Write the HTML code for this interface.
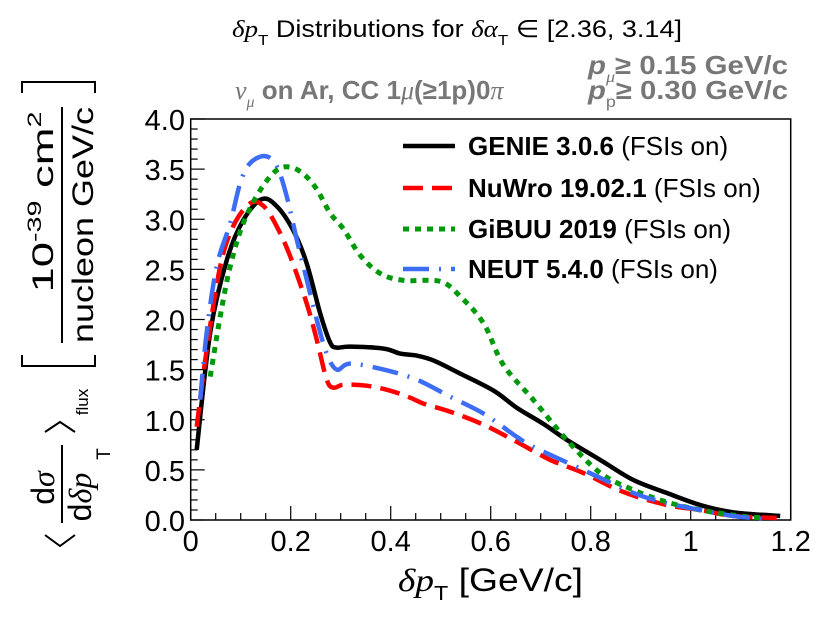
<!DOCTYPE html>
<html><head><meta charset="utf-8"><style>
html,body{margin:0;padding:0;background:#fff;}
svg{display:block;font-family:"Liberation Sans",sans-serif;}
</style></head><body>
<svg id="chart" width="830" height="624" viewBox="0 0 830 624" xmlns="http://www.w3.org/2000/svg">
<rect width="830" height="624" fill="#fff"/>
<g>
<text x="232" y="37" font-size="24" fill="#000" textLength="450" lengthAdjust="spacingAndGlyphs"><tspan font-family="Liberation Serif" font-style="italic">δp</tspan><tspan font-size="15" dy="8">T</tspan><tspan dy="-8"> Distributions for </tspan><tspan font-family="Liberation Serif" font-style="italic">δα</tspan><tspan font-size="15" dy="8">T</tspan><tspan dy="-8"> ∈  [2.36, 3.14]</tspan></text>
</g>
<text x="588" y="74" font-size="26" font-weight="bold" fill="#777" textLength="200" lengthAdjust="spacingAndGlyphs"><tspan font-style="italic">p</tspan><tspan font-size="16" dy="8" font-weight="normal" font-family="Liberation Serif" font-style="italic">μ</tspan><tspan dy="-8">≥ 0.15 GeV/c</tspan></text>
<text x="588" y="99" font-size="26" font-weight="bold" fill="#777" textLength="200" lengthAdjust="spacingAndGlyphs"><tspan font-style="italic">p</tspan><tspan font-size="16" dy="8" font-weight="normal">p</tspan><tspan dy="-8">≥ 0.30 GeV/c</tspan></text>
<text x="235" y="99" font-size="26" font-weight="bold" fill="#777"><tspan font-family="Liberation Serif" font-style="italic" font-weight="normal">ν</tspan><tspan font-size="16" dy="8" font-family="Liberation Serif" font-style="italic" font-weight="normal">μ</tspan><tspan dy="-8"> on Ar, CC 1</tspan><tspan font-family="Liberation Serif" font-style="italic" font-weight="normal">μ</tspan><tspan>(≥1p)0</tspan><tspan font-family="Liberation Serif" font-style="italic" font-weight="normal">π</tspan></text>

<g>
<path d="M22,93 V82 H95 V93" fill="none" stroke="#000" stroke-width="2"/>
<path d="M22,355 V366 H95 V355" fill="none" stroke="#000" stroke-width="2"/>
<line x1="62" y1="107" x2="62" y2="343" stroke="#000" stroke-width="2"/>
<text transform="translate(53,202) rotate(-90)" font-size="30" text-anchor="middle" textLength="181" lengthAdjust="spacingAndGlyphs">10<tspan font-size="19" dy="-12">-39</tspan><tspan dy="12"> cm</tspan><tspan font-size="19" dy="-12">2</tspan></text>
<text transform="translate(93,225) rotate(-90)" font-size="30" text-anchor="middle" textLength="236" lengthAdjust="spacingAndGlyphs">nucleon GeV/c</text>
<path d="M45,432 L60,422 L75,432" fill="none" stroke="#000" stroke-width="2"/>
<text transform="translate(88,402) rotate(-90)" font-size="17" text-anchor="middle">flux</text>
<line x1="62" y1="445" x2="62" y2="523" stroke="#000" stroke-width="2"/>
<text transform="translate(54,488) rotate(-90)" font-size="32" text-anchor="middle">d<tspan font-family="Liberation Serif" font-style="italic">σ</tspan></text>
<text transform="translate(91,497) rotate(-90)" font-size="32" text-anchor="middle">d<tspan font-family="Liberation Serif" font-style="italic">δp</tspan></text>
<text transform="translate(110,454) rotate(-90)" font-size="19" text-anchor="middle">T</text>
<path d="M45,535 L60,546 L75,535" fill="none" stroke="#000" stroke-width="2"/>
</g>

<text x="398" y="591" font-size="32" textLength="185" lengthAdjust="spacingAndGlyphs"><tspan font-family="Liberation Serif" font-style="italic">δp</tspan><tspan font-size="20" dy="9">T</tspan><tspan dy="-9"> [GeV/c]</tspan></text>

<g id="axes"></g>
<g id="series"></g>
<g id="legend"></g>
</svg>
<script>
const xTicks = [0, 0.2, 0.4, 0.6, 0.8, 1, 1.2];
const xTickLabels = ["0", "0.2", "0.4", "0.6", "0.8", "1", "1.2"];
const yTicks = [0, 0.5, 1, 1.5, 2, 2.5, 3, 3.5, 4];
const yTickLabels = ["0.0", "0.5", "1.0", "1.5", "2.0", "2.5", "3.0", "3.5", "4.0"];
const seriesNames = ["GENIE 3.0.6", "NuWro 19.02.1", "GiBUU 2019", "NEUT 5.4.0"];
const genieX = [0.012,0.039,0.072,0.105,0.142,0.172,0.205,0.232,0.259,0.279,0.292,0.319,0.386,0.419,0.452,0.486,0.539,0.606,0.652,0.705,0.752,0.819,0.885,0.952,1.019,1.085,1.179];
const genieY = [0.70,1.87,2.59,2.99,3.20,3.13,2.89,2.56,2.06,1.77,1.72,1.73,1.71,1.66,1.64,1.59,1.46,1.29,1.12,0.96,0.80,0.60,0.40,0.27,0.15,0.077,0.04];
const nuwroX = [0.012,0.032,0.059,0.085,0.119,0.146,0.172,0.199,0.232,0.252,0.272,0.286,0.306,0.352,0.399,0.439,0.466,0.519,0.586,0.652,0.719,0.785,0.865,0.952,1.019,1.085,1.172];
const nuwroY = [0.93,1.70,2.53,2.93,3.16,3.13,2.93,2.63,2.16,1.80,1.40,1.32,1.35,1.34,1.29,1.22,1.16,1.08,0.95,0.78,0.60,0.47,0.28,0.15,0.10,0.04,0.02];
const gibuuX = [0.039,0.059,0.079,0.105,0.139,0.172,0.199,0.226,0.252,0.279,0.306,0.339,0.379,0.426,0.499,0.539,0.586,0.625,0.685,0.752,0.819,0.885,0.952,1.019,1.099,1.15];
const gibuuY = [1.43,2.03,2.53,2.96,3.29,3.49,3.52,3.45,3.30,3.06,2.90,2.64,2.46,2.39,2.38,2.23,1.96,1.55,1.20,0.80,0.47,0.30,0.18,0.10,0.04,0.02];
const neutX = [0.019,0.032,0.052,0.079,0.099,0.119,0.149,0.172,0.192,0.212,0.232,0.252,0.272,0.292,0.319,0.386,0.452,0.519,0.586,0.652,0.685,0.785,0.885,0.952,1.019,1.085,1.15];
const neutY = [1.20,1.87,2.53,2.96,3.36,3.56,3.63,3.53,3.23,2.80,2.40,2.00,1.66,1.50,1.56,1.50,1.40,1.23,1.06,0.83,0.73,0.50,0.27,0.17,0.10,0.04,0.01];

const NS = "http://www.w3.org/2000/svg";
const X0 = 190.7, X1 = 790.7, Y0 = 520, Y1 = 119;
const sx = v => X0 + (v / 1.2) * (X1 - X0);
const sy = v => Y0 - (v / 4) * (Y0 - Y1);
function mk(tag, attrs, parent) {
  const e = document.createElementNS(NS, tag);
  for (const k in attrs) e.setAttribute(k, attrs[k]);
  parent.appendChild(e);
  return e;
}
function smoothPath(P) {
  let d = 'M' + P[0][0].toFixed(1) + ',' + P[0][1].toFixed(1);
  for (let i = 0; i < P.length - 1; i++) {
    const p0 = P[Math.max(i - 1, 0)], p1 = P[i], p2 = P[i + 1], p3 = P[Math.min(i + 2, P.length - 1)];
    const c1 = [p1[0] + (p2[0] - p0[0]) / 6, p1[1] + (p2[1] - p0[1]) / 6];
    const c2 = [p2[0] - (p3[0] - p1[0]) / 6, p2[1] - (p3[1] - p1[1]) / 6];
    d += ' C' + c1[0].toFixed(1) + ',' + c1[1].toFixed(1) + ' ' + c2[0].toFixed(1) + ',' + c2[1].toFixed(1) + ' ' + p2[0].toFixed(1) + ',' + p2[1].toFixed(1);
  }
  return d;
}
const axes = document.getElementById('axes');
const frame = mk('rect', {x: X0, y: Y1, width: X1 - X0, height: Y0 - Y1, fill: 'none', stroke: '#000', 'stroke-width': 1.5}, axes);


for (let i = 0; i <= 24; i++) {
  const v = i * 0.05, major = i % 4 === 0;
  const t = mk('line', {x1: sx(v), x2: sx(v), y1: Y0, y2: Y0 - (major ? 14 : 7), stroke: '#000', 'stroke-width': 1.2}, axes);
  
  
}
for (let i = 0; i <= 40; i++) {
  const v = i * 0.1, major = i % 5 === 0;
  const t = mk('line', {x1: X0, x2: X0 + (major ? 14 : 7), y1: sy(v), y2: sy(v), stroke: '#000', 'stroke-width': 1.2}, axes);
  
  
}
xTicks.forEach((v, i) => {
  const t = mk('text', {x: sx(v), y: 551, 'font-size': 29, 'text-anchor': 'middle'}, axes);
  t.textContent = xTickLabels[i];
  
  
});
yTicks.forEach((v, i) => {
  const t = mk('text', {x: 185, y: sy(v) + 11, 'font-size': 29, 'text-anchor': 'end'}, axes);
  t.textContent = yTickLabels[i];
  
  
});
const styles = [
  {stroke: '#000', w: 4.5, dash: ''},
  {stroke: '#ff0000', w: 4.5, dash: '20 9'},
  {stroke: '#00990a', w: 5, dash: '6 6'},
  {stroke: '#3d6df5', w: 4.5, dash: '26 10 2 10'}
];
const data = [[genieX, genieY], [nuwroX, nuwroY], [gibuuX, gibuuY], [neutX, neutY]];
const seriesG = document.getElementById('series');
const keys = ['genie', 'nuwro', 'gibuu', 'neut'];
data.forEach((d, k) => {
  const P = d[0].map((x, i) => [sx(x), sy(d[1][i])]);
  const p = mk('path', {d: smoothPath(P), fill: 'none', stroke: styles[k].stroke, 'stroke-width': styles[k].w, 'stroke-dasharray': styles[k].dash, 'stroke-linejoin': 'round'}, seriesG);
  
  
});
const legend = document.getElementById('legend');
const rowsY = [146, 188, 229, 269];
seriesNames.forEach((n, k) => {
  const g = mk('g', {}, legend);
  
  
  mk('line', {x1: 403, x2: 455, y1: rowsY[k], y2: rowsY[k], stroke: styles[k].stroke, 'stroke-width': styles[k].w, 'stroke-dasharray': styles[k].dash}, g);
  const t = mk('text', {x: 468, y: rowsY[k] + 9, 'font-size': 26}, g);
  const b = mk('tspan', {'font-weight': 'bold'}, t);
  b.textContent = n;
  const r = mk('tspan', {}, t);
  r.textContent = ' (FSIs on)';
});
</script>
</body></html>
